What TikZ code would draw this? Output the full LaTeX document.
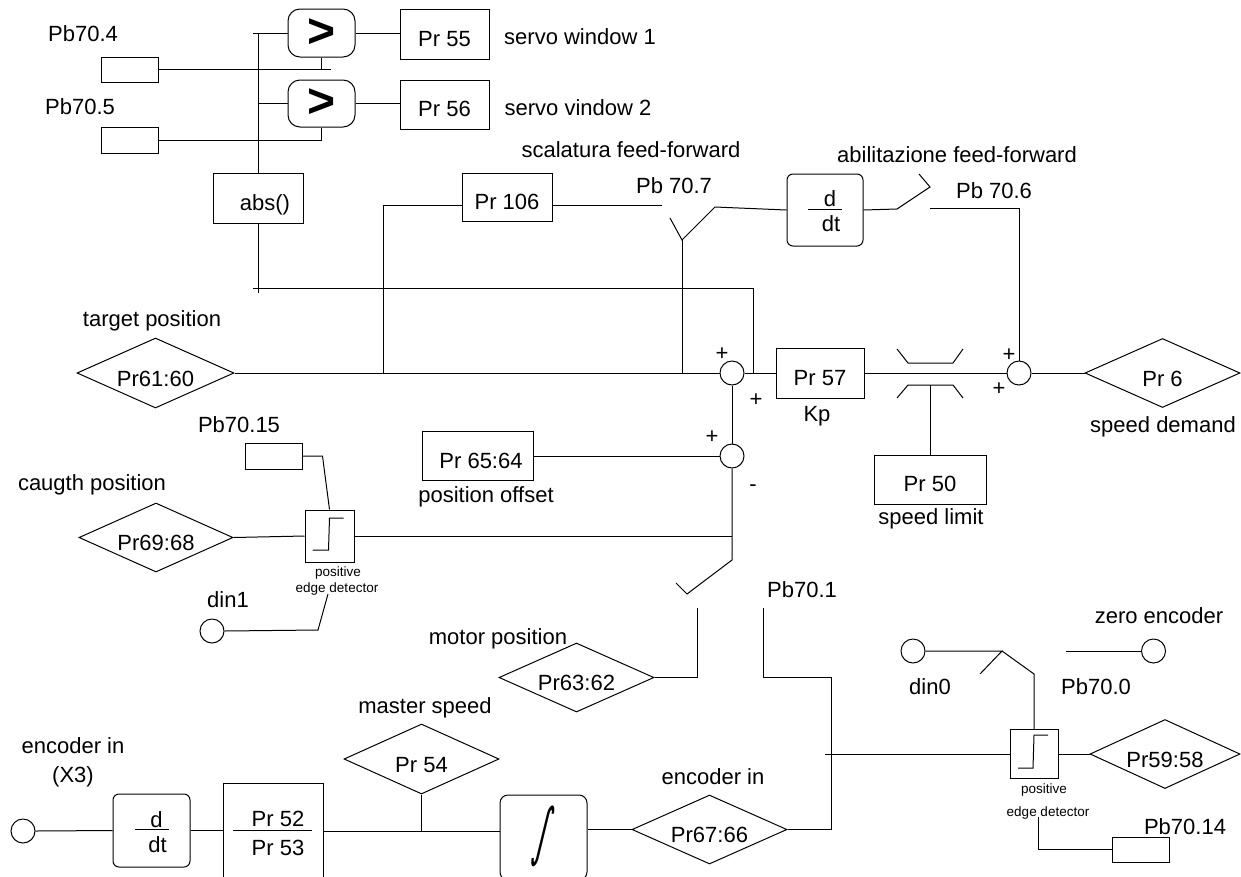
\documentclass[tikz,border=0pt]{standalone}
\usepackage{fontspec}
\setmainfont{Liberation Sans}
\newfontfamily\djfont{DejaVu Sans}
\usepackage{graphicx}
\usetikzlibrary{shapes.geometric}
\begin{document}
\begin{tikzpicture}[x=1pt,y=-1pt, line width=1pt,
  every node/.append style={font=\fontsize{22}{26}\selectfont},
  box/.style={draw, rectangle, inner sep=0pt, text height=24pt, text depth=0pt},
  rbox/.style={draw, rectangle, rounded corners=6pt, inner sep=0pt},
  dia/.style={draw, diamond, aspect=2.2, inner sep=0pt, text height=26pt, text depth=0pt},
  sum/.style={draw, circle, minimum size=24pt, inner sep=0pt},
  lbl/.style={inner sep=0pt, text height=15pt, text depth=4pt},
  small/.style={inner sep=0pt, font=\fontsize{13.5}{15}\selectfont, text height=10pt, text depth=3pt},
  cmp/.style={draw, rectangle, rounded corners=12pt, inner sep=0pt, minimum width=67pt, font=\fontsize{48}{48}\selectfont\bfseries}
]
\useasboundingbox (0,0) rectangle (1241,876);
\clip (0,0) rectangle (1241,876);

% ---------- top: servo windows ----------
\node[box, minimum width=57pt, minimum height=25pt] (pb704) at (129.5,69.5) {};
\node[box, minimum width=57pt, minimum height=26pt] (pb705) at (129.5,140) {};
\node[lbl] at (83,36) {Pb70.4};
\node[lbl] at (80,109) {Pb70.5};
\node[cmp, minimum height=48pt] (cmp1) at (321.5,33) {>};
\node[cmp, minimum height=47pt] (cmp2) at (321.5,103.5) {>};
\node[box, minimum width=89pt, minimum height=50pt] (pr55) at (444.5,34) {Pr 55};
\node[box, minimum width=89pt, minimum height=49pt] (pr56) at (444.5,104.5) {Pr 56};
\node[lbl] at (580,39) {servo window 1};
\node[lbl] at (578,110) {servo vindow 2};
\node[box, minimum width=90pt, minimum height=50pt, text height=25pt] (abs) at (258,198) {\hspace*{14pt}abs()};

\coordinate (bt) at (258,33);
\draw ([shift={(-5,0)}]bt) -- (cmp1.west);
\draw (bt) -- (abs.north);
\draw (bt |- cmp2.west) -- (cmp2.west);
\draw (pb704.east) -- ++(172,0);
\draw (cmp1.south) -- (cmp1.south |- pb704.east);
\draw (pb705.east) -| (cmp2.south);
\draw (cmp1.east) -- (cmp1.east -| pr55.west);
\draw (cmp2.east) -- (cmp2.east -| pr56.west);

% feedback line
\coordinate (fb) at (258,288);
\coordinate (fbj) at (753,373);
\draw (abs.south) -- ([shift={(0,5)}]fb);
\draw ([shift={(-5,0)}]fb) -| (fbj);

% ---------- main row ----------
\node[dia, minimum width=157pt, minimum height=70pt] (d6160) at (155.5,373) {Pr61:60};
\node[lbl] at (152,321) {target position};
\node[sum] (s1) at (732,373) {};
\draw (d6160.east) -- (s1.west);
\node[box, minimum width=88pt, minimum height=50pt] (pr57) at (820,373.5) {Pr 57};
\draw (s1.east) -- (s1.east -| pr57.west);
\node[lbl] at (817,416) {Kp};
\node[sum] (s2) at (1019,373) {};
\draw (pr57.east |- s2.west) -- (s2.west);
\node[dia, minimum width=155pt, minimum height=69pt] (d6) at (1162.5,373) {Pr 6};
\draw (s2.east) -- (d6.west);
\node[lbl] at (1163,427) {speed demand};
\node[lbl] at (1009,356) {+};
\node[lbl] at (999,390) {+};
\node[lbl] at (722,355) {+};
\node[lbl] at (756,401) {+};
\node[lbl] at (712,438) {+};
\node[lbl] at (753,486) {-};

% Pr 106 feed-forward
\node[box, minimum width=90pt, minimum height=48pt] (pr106) at (507,197) {Pr 106};
\coordinate (tj) at (383,373);
\draw (tj) |- ([shift={(0,8)}]pr106.west);
\draw ([shift={(0,8)}]pr106.east) -- (662,205);
\coordinate (p7) at (682,240);
\node[rbox, minimum width=76pt, minimum height=72pt] (ddt1) at (825,210) {};
\draw (670,218) -- (p7) -- (715,207) -- (ddt1.west);
\draw (p7) -- (p7 |- tj);
\node[lbl] at (631,152) {scalatura feed-forward};
\node[lbl] at (674,188) {Pb 70.7};
\draw ([shift={(-17,-1)}]ddt1.center) -- ([shift={(17,-1)}]ddt1.center);
\node[lbl] at ([shift={(5,-9)}]ddt1.center) {d};
\node[lbl] at ([shift={(6,16)}]ddt1.center) {dt};
\draw (ddt1.east) -- (897,209) -- (930,187) -- (919,174);
\draw (930,208) -| (s2.north);
\node[lbl] at (957,157) {abilitazione feed-forward};
\node[lbl] at (994,193) {Pb 70.6};

% limiter
\draw (897,349) -- (908,363) -- (953,363) -- (963,349);
\draw (897,398) -- (908,385) -- (953,385) -- (963,398);
\node[box, minimum width=112pt, minimum height=49pt] (pr50) at (930,479.5) {Pr 50};
\draw (pr50.north) -- (930,385);
\node[lbl] at (931,519) {speed limit};

% position offset
\node[sum] (s3) at (732,456) {};
\draw (s1.south) -- (s3.north);
\node[box, minimum width=111pt, minimum height=49pt] (pr6564) at (477.5,456) {\hspace*{7pt}Pr 65:64};
\draw (pr6564.east) -- (s3.west);
\node[lbl] at (486,497) {position offset};
\coordinate (mj) at (732,560);
\draw (s3.south) -- (mj) -- (687,594) -- (676,583);

% caught position
\node[box, minimum width=49pt, minimum height=52pt, text height=0pt] (ed1) at (329.5,536) {};
\draw ([shift={(-17,14)}]ed1.center) -- ++(16,0) -- ++(1,-32) -- ++(14,0);
\node[small] at (338,573) {positive};
\node[small] at (337,589) {edge detector};
\draw (ed1.east) -- (ed1.east -| mj);
\node[dia, minimum width=154pt, minimum height=69pt] (d6968) at (156,537.5) {Pr69:68};
\draw (d6968.east) -- (ed1.west);
\node[lbl] at (92,485) {caugth position};
\node[box, minimum width=57pt, minimum height=26pt, text height=0pt] (pb7015) at (273.5,456) {};
\node[lbl] at (239,427) {Pb70.15};
\draw (pb7015.east) -- ++(20,0) -- (ed1.north);
\node[sum] (din1) at (212,631) {};
\node[lbl] at (228,602) {din1};
\draw (din1.east) -- (318,630) -- (328,594);

% motor position
\node[dia, minimum width=155pt, minimum height=69pt] (d6362) at (576.5,677.5) {Pr63:62};
\node[lbl] at (498,639) {motor position};
\draw (697,608) |- (d6362.east);

% encoder in / Pb70.1
\node[dia, minimum width=155pt, minimum height=69pt] (d6766) at (709.5,829.5) {Pr67:66};
\node[lbl] at (713,779) {encoder in};
\node[lbl] at (802,592) {Pb70.1};
\coordinate (ej) at (831,754);
\draw (763,608) |- (ej |- d6362.east) -- (ej |- d6766.east) -- (d6766.east);

% zero encoder
\node[box, minimum width=48pt, minimum height=49pt, text height=0pt] (ed2) at (1034,754) {};
\draw ([shift={(-16,14)}]ed2.center) -- ++(15,0) -- ++(1,-33) -- ++(14,0);
\node[small] at (1044,790) {positive};
\node[small] at (1048,813) {edge detector};
\draw ([shift={(-6,0)}]ej) -- (ed2.west);
\node[dia, minimum width=150pt, minimum height=69pt] (d5958) at (1165,754) {Pr59:58};
\draw (ed2.east) -- (d5958.west);
\node[sum] (din0) at (913,651) {};
\node[lbl] at (930,689) {din0};
\coordinate (sw0) at (1002,651);
\draw (din0.east) -- (sw0) -- (980,674);
\draw (sw0) -- (1034,674) -- (ed2.north);
\node[sum] (zero) at (1153.5,651) {};
\draw (1066,651) -- (zero.west);
\node[lbl] at (1159,618) {zero encoder};
\node[lbl] at (1096,689) {Pb70.0};
\node[box, minimum width=57pt, minimum height=25pt, text height=0pt] (pb7014) at (1140.5,849.5) {};
\draw (pb7014.west) -| (1038,817);
\node[lbl] at (1185,829) {Pb70.14};

% bottom row
\node[sum] (enc) at (23,831) {};
\node[lbl] at (73,748) {encoder in};
\node[lbl] at (73,777) {(X3)};
\node[rbox, minimum width=77pt, minimum height=73pt] (ddt2) at (151.5,830.5) {};
\draw (enc.east) -- (ddt2.west);
\draw ([shift={(-17,-1)}]ddt2.center) -- ([shift={(17,-1)}]ddt2.center);
\node[lbl] at ([shift={(5,-9)}]ddt2.center) {d};
\node[lbl] at ([shift={(6,16)}]ddt2.center) {dt};
\node[box, minimum width=100pt, minimum height=97pt, text height=0pt] (pr5253) at (273,831.5) {};
\draw (ddt2.east) -- (ddt2.east -| pr5253.west);
\draw ([shift={(-40,-1.5)}]pr5253.center) -- ([shift={(39,-1.5)}]pr5253.center);
\node[lbl] at (278,821) {Pr 52};
\node[lbl] at (278,850) {Pr 53};
\node[rbox, rounded corners=8pt, minimum width=87pt, minimum height=85pt] (integ) at (543.5,837.5) {};
\node[inner sep=0pt, xslant=0.22, transform shape] (intsym) at (543,836) {\resizebox*{16pt}{61pt}{\djfont ∫}};
\draw (pr5253.east) -- (pr5253.east -| integ.west);
\node[dia, minimum width=155pt, minimum height=70pt] (d54) at (421.5,759) {Pr 54};
\node[lbl] at (425,708) {master speed};
\draw (d54.south) -- (d54.south |- pr5253.east);
\draw (integ.east |- d6766.west) -- (d6766.west);
\end{tikzpicture}
\end{document}
